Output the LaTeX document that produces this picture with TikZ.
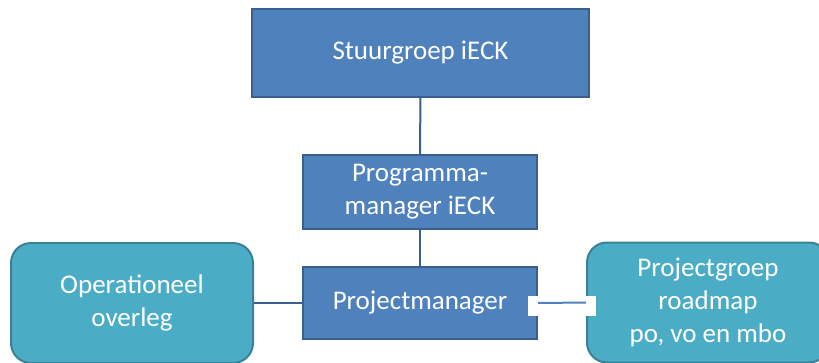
\documentclass[tikz,border=0pt]{standalone}
\usepackage{fontspec}
\setmainfont{Carlito}
\usepackage{tikz}
\usetikzlibrary{positioning,calc}
\definecolor{blokblauw}{HTML}{4F81BD}
\definecolor{randblauw}{HTML}{3A5F8C}
\definecolor{overlegblauw}{HTML}{4BACC6}
\definecolor{randturkoois}{HTML}{3A8196}
\tikzstyle{blok} = [rectangle, fill=blokblauw, draw=randblauw, line width=1.5pt,
text=white, align=center, font=\fontsize{20.25}{24.7}\selectfont, inner sep=0pt]
\tikzstyle{overleg} = [rectangle, rounded corners=15pt, fill=overlegblauw, draw=randturkoois,
line width=1.5pt, text=white, align=center, minimum width=181.5pt, minimum height=90pt,
font=\fontsize{20.25}{24.7}\selectfont, inner sep=0pt]
\tikzstyle{lijn} = [line width=1.5pt, draw=randblauw]

\begin{document}
\begin{tikzpicture}[x=0.75pt,y=-0.75pt]
						\useasboundingbox (0,0) rectangle (819,362);
						\clip (0,0) rectangle (819,362);
						\node (sg) at (420.5,53) [blok, minimum width=252.75pt, minimum height=66pt] {Stuurgroep iECK};
						\node (pgm) at (420,192) [blok, minimum width=175.5pt, minimum height=55.5pt] {Programma-\\manager iECK};
						\node (pm) at (420,303) [blok, minimum width=175.5pt, minimum height=54pt] {Projectmanager};
						\node (ov) at (132,303) [overleg] {Operationeel\\overleg};
						\node (pg) at (708,302.5) [overleg] {Projectgroep\\roadmap\\po, vo en mbo};
						\draw[lijn] (sg) -- (pgm);
						\draw[lijn] (pgm) -- (pm);
						\draw[lijn] (ov) -- (pm);
						\fill[white] (528,296) rectangle (596,316);
						\draw[lijn, draw=blokblauw] (pm.east) -- (pg.west);
					\end{tikzpicture}
\end{document}
